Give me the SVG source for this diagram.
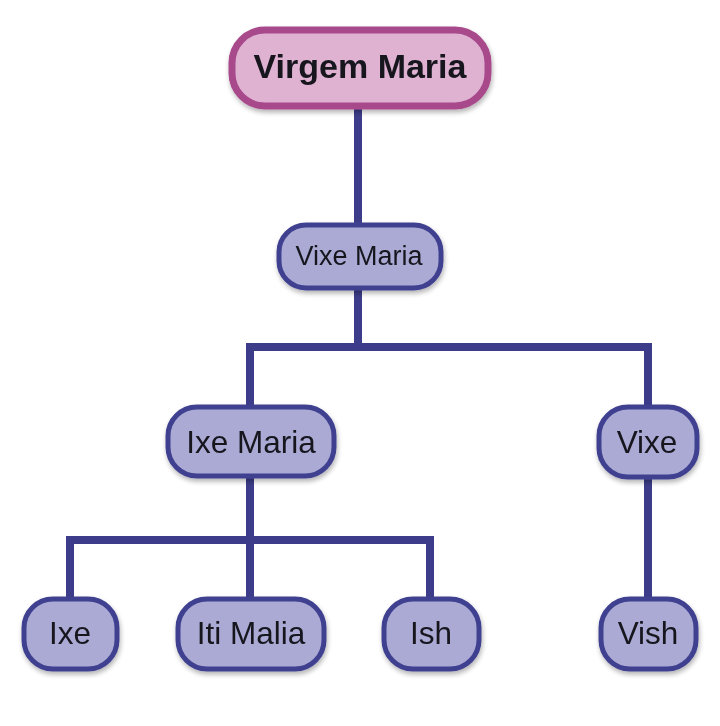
<svg xmlns="http://www.w3.org/2000/svg" width="720" height="726" viewBox="0 0 720 726">
<defs>
<filter id="sh" x="-20%" y="-20%" width="140%" height="150%">
<feGaussianBlur in="SourceAlpha" stdDeviation="2.5"/>
<feOffset dx="1" dy="3" result="b"/>
<feComponentTransfer><feFuncA type="linear" slope="0.3"/></feComponentTransfer>
<feMerge><feMergeNode/><feMergeNode in="SourceGraphic"/></feMerge>
</filter>
</defs>
<style>
.n rect{fill:#aaaad4;stroke:#404090;stroke-width:5}
.root rect{fill:#dfb2d2;stroke:#a84a8c;stroke-width:7}
text{font-family:"Liberation Sans",Arial,sans-serif;fill:#15151f;text-anchor:middle}
.t{font-size:31.5px}
.c path{fill:none;stroke:#3c3c8a;stroke-width:8}
</style>
<rect width="720" height="726" fill="#ffffff"/>
<g class="c">
<path d="M358 106V226"/>
<path d="M358 288V347M250 347H648M250 343V408M648 343V408"/>
<path d="M250 476V540M70 540H430M70 536V600M250 536V600M430 536V600"/>
<path d="M648 478V600"/>
</g>
<g id="virgem-maria" class="root" filter="url(#sh)">
<rect x="232" y="30" width="256" height="76" rx="33"/>
<text x="360" y="78" style="font-size:34px;font-weight:bold">Virgem Maria</text>
</g>
<g id="vixe-maria" class="n" filter="url(#sh)">
<rect x="279" y="225" width="162" height="63" rx="27"/>
<text x="359" y="265" style="font-size:27px">Vixe Maria</text>
</g>
<g id="ixe-maria" class="n" filter="url(#sh)">
<rect x="168" y="407" width="166" height="69" rx="29"/>
<text x="251" y="453" class="t">Ixe Maria</text>
</g>
<g id="vixe" class="n" filter="url(#sh)">
<rect x="599" y="407" width="98" height="70" rx="29"/>
<text x="647" y="453" class="t">Vixe</text>
</g>
<g id="ixe" class="n" filter="url(#sh)">
<rect x="24" y="599" width="93" height="70" rx="29"/>
<text x="70" y="644" class="t">Ixe</text>
</g>
<g id="iti-malia" class="n" filter="url(#sh)">
<rect x="178" y="599" width="146" height="70" rx="29"/>
<text x="251" y="644" class="t">Iti Malia</text>
</g>
<g id="ish" class="n" filter="url(#sh)">
<rect x="384" y="599" width="95" height="70" rx="29"/>
<text x="431" y="644" class="t">Ish</text>
</g>
<g id="vish" class="n" filter="url(#sh)">
<rect x="601" y="599" width="95" height="70" rx="29"/>
<text x="648" y="644" class="t">Vish</text>
</g>
</svg>
